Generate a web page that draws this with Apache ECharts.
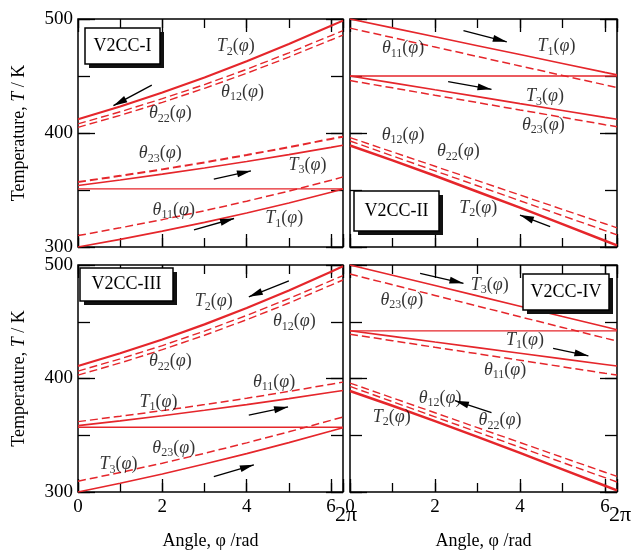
<!DOCTYPE html>
<html><head><meta charset="utf-8">
<script src="https://cdn.jsdelivr.net/npm/echarts@6/dist/echarts.min.js"></script>
<style>html,body{margin:0;padding:0;background:#fff}#c{width:636px;height:553px}</style>
</head><body><div id="c"></div>
<script>
// ---- data (x = angle φ in rad, y = temperature in K) ----
const phi = [0, 1, 2, 3, 4, 5, 6, 6.2832];
const TWO_PI = 6.2832;

// V2CC-I
const I_T1   = [300, 306.7, 313.9, 321.6, 329.8, 338.6, 348.1, 351];
const I_th11 = [310, 316.8, 324, 331.8, 340.2, 349, 358.5, 361.5];
const I_link = [351, 351, 351, 351, 351, 351, 351, 351];
const I_T3   = [354, 358.8, 363.9, 369.3, 375, 381, 387.4, 389.3];
const I_th23 = [357, 362.4, 368.1, 374.2, 380.7, 387.6, 394.8, 396.8];
const I_T2   = [412, 423.3, 435.5, 448.7, 462.9, 478.1, 494.1, 498.6];
const I_th12 = [408, 418.6, 430.1, 442.5, 455.9, 470.3, 485.5, 489.8];
const I_th22 = [405, 415.5, 426.9, 439.2, 452.4, 466.6, 481.6, 485.8];

// V2CC-II
const II_T1   = [500, 492.2, 484.4, 476.6, 468.8, 461, 453.2, 451];
const II_th11 = [492, 483.7, 475.4, 467.1, 458.8, 450.5, 442.2, 439.9];
const II_link = [450, 450, 450, 450, 450, 450, 450, 450];
const II_T3   = [450, 444, 437.9, 431.9, 425.8, 419.8, 413.7, 412];
const II_th23 = [446, 439.6, 433.1, 426.7, 420.2, 413.8, 407.3, 405.5];
const II_T2   = [389, 376, 362.5, 348.5, 334.5, 320, 305.5, 301.4];
const II_th12 = [396, 383.4, 370.8, 358.2, 345.6, 333, 320.4, 316.8];
const II_th22 = [393, 379.9, 366.8, 353.7, 340.6, 327.5, 314.4, 310.7];

// V2CC-III
const III_T2   = [411, 422.2, 434.4, 447.7, 462.1, 477.6, 494.1, 498.8];
const III_th12 = [406.5, 417.3, 429, 441.8, 455.6, 470.4, 486.2, 490.7];
const III_th22 = [403, 413.7, 425.4, 438.1, 451.8, 466.5, 482.3, 486.8];
const III_th11 = [362, 366.7, 371.7, 377, 382.6, 388.6, 395, 396.8];
const III_T1   = [358.5, 362.7, 367.2, 372, 377, 382.3, 387.9, 389.5];
const III_link = [357, 357, 357, 357, 357, 357, 357, 357];
const III_th23 = [309.5, 317.2, 325.4, 334.1, 343.3, 353, 363.2, 366.1];
const III_T3   = [300, 307.7, 315.9, 324.6, 333.8, 343.5, 353.7, 356.6];

// V2CC-IV
const IV_T3   = [500, 490.9, 481.9, 472.8, 463.7, 454.6, 445.6, 443];
const IV_th23 = [492, 482.6, 473.2, 463.8, 454.4, 445, 435.6, 433];
const IV_link = [442, 442, 442, 442, 442, 442, 442, 442];
const IV_T1   = [442, 437.1, 432.1, 427.2, 422.3, 417.3, 412.4, 411];
const IV_th11 = [439, 433.3, 427.5, 421.8, 416.1, 410.3, 404.6, 403];
const IV_T2   = [389, 376, 362.5, 348.5, 334.5, 320, 305.5, 301.4];
const IV_th12 = [396, 382.9, 369.8, 356.7, 343.6, 330.5, 317.4, 313.7];
const IV_th22 = [393, 379.6, 366.2, 352.8, 339.4, 326, 312.6, 308.8];

// curve annotations (data coordinates)
const I_lab   = ['T2', 'θ12', 'θ22', 'θ23', 'T3', 'θ11', 'T1'];
const I_labX  = [3.74, 3.9, 2.19, 1.95, 5.44, 2.27, 4.89];
const I_labY  = [475.7, 436, 417, 382, 372, 332.5, 325];
const II_lab  = ['θ11', 'T1', 'T3', 'θ23', 'θ12', 'θ22', 'T2'];
const II_labX = [1.25, 4.86, 4.59, 4.55, 1.25, 2.55, 3.02];
const II_labY = [474, 475.7, 432, 407, 398, 383.6, 334];
const III_lab  = ['T2', 'θ12', 'θ22', 'θ11', 'T1', 'θ23', 'T3'];
const III_labX = [3.22, 5.13, 2.19, 4.65, 1.91, 2.27, 0.96];
const III_labY = [467.7, 450, 414.8, 397, 379, 338.5, 324];
const IV_lab  = ['T3', 'θ23', 'T1', 'θ11', 'θ12', 'T2', 'θ22'];
const IV_labX = [3.29, 1.22, 4.12, 3.65, 2.12, 0.98, 3.53];
const IV_labY = [482.4, 469, 434, 407.5, 382.7, 366, 362.8];

// flow arrows: [x0, y0, x1, y1]
const I_arrows   = [[1.75, 442, 0.84, 424], [3.22, 359.6, 4.1, 366.7], [2.75, 315, 3.7, 325]];
const II_arrows  = [[2.67, 489.7, 3.69, 480], [2.31, 445, 3.33, 438.3], [4.71, 317.8, 4.0, 328]];
const III_arrows = [[5.0, 486, 4.05, 472], [4.05, 367.8, 4.98, 375], [3.22, 313.5, 4.17, 324]];
const IV_arrows  = [[1.65, 492.7, 2.67, 483.9], [4.78, 426.6, 5.61, 420], [3.33, 370, 2.47, 380.5]];

const panelNames = ['V2CC-I', 'V2CC-II', 'V2CC-III', 'V2CC-IV'];

// ---- style ----
const RED = '#e5262b';
const FONT = 'Liberation Serif';
const panels = [
  { grid: {left: 78, top: 19, width: 265, height: 228}, box: {x: 85, y: 28, w: 75, h: 36},
    lines: [[I_T1,0,1.6],[I_th11,1,1.5],[I_link,0,1.4],[I_T3,0,1.6],[I_th23,1,2],[I_T2,0,2],[I_th12,1,1.4],[I_th22,1,1.4]],
    lab: I_lab, labX: I_labX, labY: I_labY, arrows: I_arrows },
  { grid: {left: 350, top: 19, width: 267, height: 228}, box: {x: 354, y: 191, w: 85, h: 40},
    lines: [[II_T1,0,1.6],[II_th11,1,1.5],[II_link,0,1.4],[II_T3,0,1.6],[II_th23,1,1.5],[II_T2,0,2.5],[II_th12,1,1.4],[II_th22,1,1.4]],
    lab: II_lab, labX: II_labX, labY: II_labY, arrows: II_arrows },
  { grid: {left: 78, top: 265, width: 265, height: 227}, box: {x: 80, y: 268, w: 93, h: 33},
    lines: [[III_T2,0,2.2],[III_th12,1,1.4],[III_th22,1,1.4],[III_th11,1,1.5],[III_T1,0,1.6],[III_link,0,1.4],[III_th23,1,1.5],[III_T3,0,1.6]],
    lab: III_lab, labX: III_labX, labY: III_labY, arrows: III_arrows },
  { grid: {left: 350, top: 265, width: 267, height: 227}, box: {x: 523, y: 274, w: 86, h: 36},
    lines: [[IV_T3,0,1.6],[IV_th23,1,1.5],[IV_link,0,1.4],[IV_T1,0,1.6],[IV_th11,1,1.5],[IV_T2,0,2.5],[IV_th12,1,1.4],[IV_th22,1,1.4]],
    lab: IV_lab, labX: IV_labX, labY: IV_labY, arrows: IV_arrows }
];

function richLabel(s) {
  return '{it|' + s[0] + '}{sub|' + s.slice(1) + '}{n|(}{it|φ}{n|)}';
}
const labelRich = {
  it: {fontFamily: FONT, fontStyle: 'italic', fontSize: 18, color: '#000'},
  n: {fontFamily: FONT, fontSize: 18, color: '#000'},
  sub: {fontFamily: FONT, fontSize: 12, color: '#000', padding: [10, 0, 0, 0]}
};

const grids = [], xAxes = [], yAxes = [], series = [], graphics = [];
const tickStyle = {color: '#000', width: 1.3};
const isMax = v => Math.abs(v - TWO_PI) < 0.01;

panels.forEach((p, g) => {
  const isBottom = g >= 2, isLeft = g % 2 === 0;
  grids.push(Object.assign({show: true, borderColor: '#000', borderWidth: 1.5, backgroundColor: 'transparent', outerBoundsMode: 'none'}, p.grid));
  // x axes: bottom major (numbers), bottom minor (carries the 2π label), top major, top minor
  [['bottom', 2, 13, 'num'], ['bottom', 1, 9, 'pi'], ['top', 2, 13, ''], ['top', 1, 9, '']].forEach(([pos, iv, len, kind]) => {
    const showLab = kind !== '' && isBottom;
    xAxes.push({
      gridIndex: g, type: 'value', position: pos, min: 0, max: TWO_PI, interval: iv,
      axisLine: {show: false, onZero: false}, splitLine: {show: false},
      axisTick: {show: true, inside: true, length: len, lineStyle: tickStyle},
      axisLabel: {
        show: showLab, margin: 6, color: '#000', fontFamily: FONT, fontSize: 19,
        showMinLabel: true, showMaxLabel: true, hideOverlap: false,
        formatter: kind === 'pi' ? (v => isMax(v) ? '{pi|2π}' : '') : (v => isMax(v) ? '' : String(Math.round(v))),
        rich: {pi: {fontFamily: FONT, fontSize: 22, color: '#000', padding: [6, 0, 0, 6]}}
      },
      name: (kind === 'num' && isBottom) ? 'Angle, φ /rad' : '', nameLocation: 'middle', nameGap: 40,
      nameTextStyle: {color: '#000', fontFamily: FONT, fontSize: 18}
    });
  });
  [['left', 100, 17, true], ['left', 50, 12, false], ['right', 100, 17, false], ['right', 50, 12, false]].forEach(([pos, iv, len, main]) => {
    const showLab = main && isLeft;
    yAxes.push({
      gridIndex: g, type: 'value', position: pos, min: 300, max: 500, interval: iv,
      axisLine: {show: false, onZero: false}, splitLine: {show: false},
      axisTick: {show: true, inside: true, length: len, lineStyle: tickStyle},
      axisLabel: {show: showLab, margin: 5, color: '#000', fontFamily: FONT, fontSize: 19},
      name: showLab ? 'Temperature, {i|T} / K' : '', nameLocation: 'middle', nameGap: 50,
      nameTextStyle: {color: '#000', fontFamily: FONT, fontSize: 18,
        rich: {i: {fontFamily: FONT, fontSize: 18, fontStyle: 'italic', color: '#000'}}}
    });
  });
  p.lines.forEach(([arr, dashed, w]) => {
    series.push({
      type: 'line', xAxisIndex: 4 * g, yAxisIndex: 4 * g, silent: true,
      data: phi.map((x, i) => [x, arr[i]]), showSymbol: false, symbol: 'none', smooth: false,
      lineStyle: {color: RED, width: w, type: dashed ? [8, 4] : 'solid'}, z: 2
    });
  });
  series.push({
    type: 'scatter', xAxisIndex: 4 * g, yAxisIndex: 4 * g, silent: true, symbolSize: 0, z: 5,
    data: p.lab.map((t, i) => ({value: [p.labX[i], p.labY[i]], name: t})),
    label: {show: true, position: 'inside', formatter: q => richLabel(q.name), rich: labelRich},
    markLine: {
      silent: true, animation: false, symbol: ['none', 'triangle'], symbolSize: [0, 12],
      label: {show: false}, lineStyle: {color: '#000', width: 1.3, type: 'solid'},
      emphasis: {disabled: true},
      data: p.arrows.map(a => [{coord: [a[0], a[1]]}, {coord: [a[2], a[3]], symbolSize: [7, 14], symbolOffset: [0, 7]}])
    }
  });
  const b = p.box;
  graphics.push({type: 'rect', z: 100, shape: {x: b.x + 4, y: b.y + 4, width: b.w, height: b.h}, style: {fill: '#111'}});
  graphics.push({type: 'rect', z: 101, shape: {x: b.x, y: b.y, width: b.w, height: b.h}, style: {fill: '#fff', stroke: '#000', lineWidth: 1.5}});
  graphics.push({type: 'text', z: 102, x: b.x + b.w / 2, y: b.y + b.h / 2,
    style: {text: panelNames[g], fill: '#000', fontFamily: FONT, fontSize: 18, align: 'center', verticalAlign: 'middle'}});
});

const chart = echarts.init(document.getElementById('c'), null, {renderer: 'canvas'});
chart.setOption({
  animation: false, backgroundColor: '#fff',
  grid: grids, xAxis: xAxes, yAxis: yAxes, series: series, graphic: graphics
});
</script></body></html>
